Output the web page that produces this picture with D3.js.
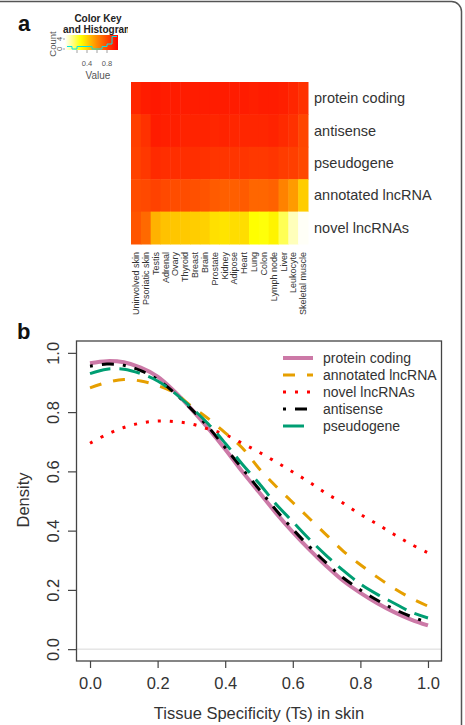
<!DOCTYPE html>
<html>
<head>
<meta charset="utf-8">
<script src="https://cdn.jsdelivr.net/npm/d3@7"></script>
<style>
  body { margin: 0; background: #fff; }
  text { font-family: "Liberation Sans", Arial, sans-serif; fill: #333; }
</style>
</head>
<body>
<div id="fig"></div>
<script>
// ---- data: panel a (heatmap) ----
const geneTypes = ["protein coding", "antisense", "pseudogene", "annotated lncRNA", "novel lncRNAs"];
const tissues = ["Uninvolved skin", "Psoriatic skin", "Testis", "Adrenal", "Ovary", "Thyroid", "Breast",
  "Brain", "Prostate", "Kidney", "Adipose", "Heart", "Lung", "Colon", "Lymph node", "Liver",
  "Leukocyte", "Skeletal muscle"];
const proteinCodingRow = [0.89, 0.92, 0.93, 0.92, 0.92, 0.92, 0.92, 0.92, 0.92, 0.92, 0.92, 0.92, 0.91, 0.92, 0.92, 0.91, 0.89, 0.86];
const antisenseRow     = [0.82, 0.86, 0.92, 0.91, 0.91, 0.90, 0.90, 0.90, 0.89, 0.90, 0.89, 0.89, 0.89, 0.89, 0.90, 0.88, 0.86, 0.80];
const pseudogeneRow    = [0.81, 0.84, 0.88, 0.87, 0.87, 0.87, 0.87, 0.86, 0.85, 0.85, 0.85, 0.85, 0.84, 0.84, 0.85, 0.83, 0.82, 0.79];
const annotatedRow     = [0.78, 0.79, 0.81, 0.79, 0.78, 0.78, 0.77, 0.76, 0.74, 0.73, 0.73, 0.74, 0.71, 0.71, 0.72, 0.63, 0.56, 0.43];
const novelRow         = [0.76, 0.70, 0.50, 0.46, 0.45, 0.44, 0.43, 0.42, 0.38, 0.37, 0.39, 0.39, 0.30, 0.29, 0.33, 0.20, 0.08, 0.01];
const heatRows = [proteinCodingRow, antisenseRow, pseudogeneRow, annotatedRow, novelRow];

// color key
const keyTicks = [0.2, 0.4, 0.6, 0.8];
const keyLabels = [0.4, 0.8];
const keyBinEdges = [0, 0.1, 0.2, 0.3, 0.4, 0.5, 0.6, 0.7, 0.8, 0.9, 1.0];
const keyCounts = [1, 0, 1, 1, 1, 0, 0, 1, 2, 5];
const countTicks = [0, 4];

// ---- data: panel b (density curves) ----
const ts = [0, 0.05, 0.1, 0.15, 0.2, 0.25, 0.3, 0.35, 0.4, 0.45, 0.5, 0.55, 0.6, 0.65, 0.7, 0.75, 0.8, 0.85, 0.9, 0.95, 1.0];
const proteinCoding = [0.965, 0.972, 0.968, 0.95, 0.92, 0.87, 0.81, 0.745, 0.675, 0.60, 0.53, 0.46, 0.395, 0.335, 0.28, 0.23, 0.19, 0.155, 0.125, 0.10, 0.08];
const annotatedLnc  = [0.882, 0.90, 0.91, 0.905, 0.89, 0.865, 0.82, 0.778, 0.73, 0.68, 0.61, 0.55, 0.495, 0.44, 0.385, 0.33, 0.285, 0.243, 0.205, 0.172, 0.145];
const novelLnc      = [0.695, 0.725, 0.748, 0.763, 0.77, 0.768, 0.76, 0.743, 0.724, 0.695, 0.665, 0.632, 0.598, 0.563, 0.525, 0.492, 0.455, 0.422, 0.387, 0.354, 0.325];
const antisense     = [0.955, 0.962, 0.958, 0.94, 0.91, 0.865, 0.81, 0.75, 0.68, 0.61, 0.54, 0.47, 0.405, 0.345, 0.29, 0.24, 0.20, 0.165, 0.135, 0.11, 0.09];
const pseudogene    = [0.93, 0.945, 0.945, 0.93, 0.905, 0.865, 0.815, 0.76, 0.695, 0.625, 0.56, 0.49, 0.43, 0.37, 0.315, 0.265, 0.22, 0.185, 0.155, 0.125, 0.105];
const densityTicks = [0, 0.2, 0.4, 0.6, 0.8, 1.0];
const tsTicks = [0, 0.2, 0.4, 0.6, 0.8, 1.0];

const series = [
  { name: "protein coding",   values: proteinCoding, color: "#CC79A7", width: 4,   dash: null },
  { name: "annotated lncRNA", values: annotatedLnc,  color: "#E69F00", width: 3,   dash: "12,12" },
  { name: "novel lncRNAs",    values: novelLnc,      color: "#FF0000", width: 3,   dash: "3,9" },
  { name: "antisense",        values: antisense,     color: "#000000", width: 3,   dash: "3,9,12,9" },
  { name: "pseudogene",       values: pseudogene,    color: "#009E73", width: 3,   dash: "21,9" }
];

const W = 465, H = 725;
const svg = d3.select("#fig").append("svg")
  .attr("width", W).attr("height", H);

// outer figure frame (top and right edges visible)
svg.append("path")
  .attr("d", "M-5,1.5 H451.5 A10,10 0 0 1 461.5,11.5 V735")
  .attr("fill", "none").attr("stroke", "#555").attr("stroke-width", 1.5);

svg.append("text").attr("x", 18).attr("y", 31)
  .style("font-size", "22px").style("font-weight", "bold").style("fill", "#111").text("a");
svg.append("text").attr("x", 17).attr("y", 339)
  .style("font-size", "22px").style("font-weight", "bold").style("fill", "#111").text("b");

// ---- color scale ----
const color = d3.scaleLinear()
  .domain([0, 0.3, 0.6, 1])
  .range(["#ffffff", "#ffff00", "#ff8c00", "#ff0000"])
  .clamp(true);

// ---- color key ----
const keyX = d3.scaleLinear().domain([0, 1]).range([67, 117]);
const keyY = d3.scaleLinear().domain([0, 6]).range([49, 34]);

const defs = svg.append("defs");
const grad = defs.append("linearGradient").attr("id", "keygrad");
d3.range(0, 1.01, 0.1).forEach(function (v) {
  grad.append("stop").attr("offset", (v * 100) + "%").attr("stop-color", color(v));
});
defs.append("clipPath").attr("id", "keyclip")
  .append("rect").attr("x", 0).attr("y", 0).attr("width", 128).attr("height", 80);

const key = svg.append("g");
key.append("rect")
  .attr("x", keyX(0) - 2).attr("y", 35).attr("width", keyX(1) - keyX(0) + 3).attr("height", 15)
  .attr("fill", "url(#keygrad)");

const histLine = [];
keyCounts.forEach(function (c, i) {
  histLine.push([keyBinEdges[i], c]);
  histLine.push([keyBinEdges[i + 1], c]);
});
key.append("path")
  .datum(histLine)
  .attr("d", d3.line().x(d => keyX(d[0])).y(d => keyY(d[1])))
  .attr("fill", "none").attr("stroke", "#00e5e5").attr("stroke-width", 1);

key.selectAll(".ktick").data(keyTicks).join("line")
  .attr("x1", d => keyX(d)).attr("x2", d => keyX(d))
  .attr("y1", 50).attr("y2", 53).attr("stroke", "#666").attr("stroke-width", 0.6);
key.selectAll(".klab").data(keyLabels).join("text")
  .attr("x", d => keyX(d)).attr("y", 65.5).attr("text-anchor", "middle")
  .style("font-size", "7.5px").style("fill", "#555").text(d => d.toFixed(1));
key.append("text").attr("x", 98).attr("y", 78.5).attr("text-anchor", "middle")
  .style("font-size", "10px").style("fill", "#555").text("Value");

key.selectAll(".ctick").data(countTicks).join("line")
  .attr("x1", 63).attr("x2", 65).attr("y1", d => keyY(d)).attr("y2", d => keyY(d))
  .attr("stroke", "#666").attr("stroke-width", 0.6);
key.selectAll(".clab").data(countTicks).join("text")
  .attr("transform", d => "translate(62," + keyY(d) + ") rotate(-90)")
  .attr("text-anchor", "middle")
  .style("font-size", "7.5px").style("fill", "#555").text(d => d);
key.append("text").attr("transform", "translate(56,44) rotate(-90)")
  .attr("text-anchor", "middle").style("font-size", "9.5px").style("fill", "#555").text("Count");

const keyTitle = key.append("g").attr("clip-path", "url(#keyclip)");
keyTitle.append("text").attr("x", 98).attr("y", 22).attr("text-anchor", "middle")
  .style("font-size", "10px").style("font-weight", "bold").style("fill", "#222").text("Color Key");
keyTitle.append("text").attr("x", 63).attr("y", 33)
  .style("font-size", "10px").style("font-weight", "bold").style("fill", "#222").text("and Histogram");

// ---- heatmap ----
const hx = d3.scaleBand().domain(tissues).range([131, 308]);
const hy = d3.scaleBand().domain(geneTypes).range([82, 244]);

const cells = [];
heatRows.forEach(function (row, i) {
  row.forEach(function (v, j) {
    cells.push({ gene: geneTypes[i], tissue: tissues[j], value: v });
  });
});

svg.append("g").selectAll("rect").data(cells).join("rect")
  .attr("x", d => hx(d.tissue)).attr("y", d => hy(d.gene))
  .attr("width", hx.bandwidth() + 0.5).attr("height", hy.bandwidth() + 0.5)
  .attr("fill", d => color(d.value));

svg.append("g").selectAll("text").data(geneTypes).join("text")
  .attr("x", 314).attr("y", d => hy(d) + hy.bandwidth() / 2 + 5)
  .style("font-size", "14.5px").text(d => d);

svg.append("g").selectAll("text").data(tissues).join("text")
  .attr("transform", d => "translate(" + (hx(d) + hx.bandwidth() / 2 + 3.2) + ",252) rotate(-90)")
  .attr("text-anchor", "end")
  .style("font-size", "9px").text(d => d);

// ---- density plot ----
const x = d3.scaleLinear().domain([-0.04, 1.04]).range([76.5, 441.5]);
const y = d3.scaleLinear().domain([-0.04, 1.04]).range([661, 341]);

const plot = svg.append("g");

plot.append("line")
  .attr("x1", x(-0.04)).attr("x2", x(1.04)).attr("y1", y(0)).attr("y2", y(0))
  .attr("stroke", "#d8d8d8").attr("stroke-width", 1);

const line = d3.line().curve(d3.curveCatmullRom)
  .x((d, i) => x(ts[i])).y(d => y(d));

plot.selectAll(".curve").data(series).join("path")
  .attr("d", d => line(d.values))
  .attr("fill", "none")
  .attr("stroke", d => d.color)
  .attr("stroke-width", d => d.width)
  .attr("stroke-dasharray", d => d.dash);

plot.append("rect")
  .attr("x", 76.5).attr("y", 341).attr("width", 365).attr("height", 320)
  .attr("fill", "none").attr("stroke", "#444").attr("stroke-width", 1.3);

const xAxis = d3.axisBottom(x).tickValues(tsTicks).tickSize(7).tickPadding(8)
  .tickFormat(d3.format(".1f"));
const gx = plot.append("g").attr("transform", "translate(0,661)").call(xAxis);
gx.select(".domain").remove();
gx.selectAll("line").attr("stroke", "#444").attr("stroke-width", 1.2);
gx.selectAll("text").attr("y", 28).attr("dy", 0).style("font-size", "16.5px")
  .style("font-family", "'Liberation Sans', Arial, sans-serif").style("fill", "#333");

const yAxis = d3.axisLeft(y).tickValues(densityTicks).tickSize(8)
  .tickFormat(d3.format(".1f"));
const gy = plot.append("g").attr("transform", "translate(76,0)").call(yAxis);
gy.select(".domain").remove();
gy.selectAll("line").attr("stroke", "#444").attr("stroke-width", 1.2);
gy.selectAll("text")
  .attr("x", null).attr("dy", null)
  .attr("transform", "translate(-17,0) rotate(-90)")
  .attr("text-anchor", "middle")
  .style("font-size", "16.5px")
  .style("font-family", "'Liberation Sans', Arial, sans-serif").style("fill", "#333");

svg.append("text").attr("x", 259).attr("y", 719).attr("text-anchor", "middle")
  .style("font-size", "16.5px").text("Tissue Specificity (Ts) in skin");
svg.append("text").attr("transform", "translate(29,500) rotate(-90)").attr("text-anchor", "middle")
  .style("font-size", "16.5px").text("Density");

// legend
const lg = svg.append("g").selectAll("g").data(series).join("g")
  .attr("transform", (d, i) => "translate(283," + (358 + i * 17) + ")");
lg.append("line").attr("x1", 0).attr("x2", 30).attr("y1", 0).attr("y2", 0)
  .attr("stroke", d => d.color).attr("stroke-width", d => d.width)
  .attr("stroke-dasharray", d => d.dash);
lg.append("text").attr("x", 40).attr("y", 5)
  .style("font-size", "14px").text(d => d.name);
</script>
</body>
</html>
